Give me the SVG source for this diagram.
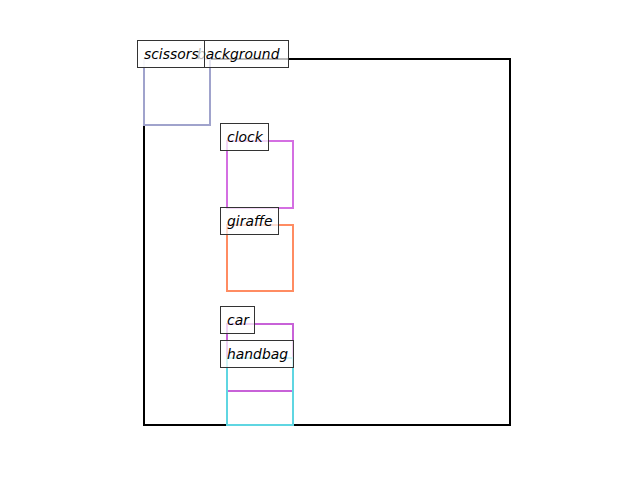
<svg xmlns="http://www.w3.org/2000/svg" width="640" height="480" viewBox="0 0 640 480">
<style>
.bx{fill:none;stroke-width:2}
.lb{fill:#fff;fill-opacity:0.72;stroke:#333;stroke-width:1}
.t{font-family:"DejaVu Sans",sans-serif;font-style:italic;font-size:13.9px;fill:#000}
</style>
<rect width="640" height="480" fill="#fff"/>
<g id="boxes">
<rect id="background" class="bx" x="144" y="59" width="366" height="366" stroke="#000"/>
<rect id="scissors" class="bx" x="144" y="59" width="66" height="66" stroke="#a0a3cc"/>
<rect id="clock" class="bx" x="227" y="141" width="66" height="67" stroke="#d46fe2"/>
<rect id="giraffe" class="bx" x="227" y="225" width="66" height="66" stroke="#ff8c62"/>
<rect id="car" class="bx" x="227" y="324" width="66" height="67" stroke="#c862d8"/>
<rect id="handbag" class="bx" x="227" y="358" width="66" height="67" stroke="#5fd6e2"/>
</g>
<g id="labels">
<g id="label-background"><rect class="lb" x="137.5" y="40.5" width="151" height="27"/><text class="t" x="197" y="59">background</text></g>
<g id="label-scissors"><rect class="lb" x="137.5" y="40.5" width="67" height="27"/><text class="t" x="144" y="59">scissors</text></g>
<g id="label-clock"><rect class="lb" x="220.5" y="123.5" width="48" height="27"/><text class="t" x="227" y="142">clock</text></g>
<g id="label-giraffe"><rect class="lb" x="220.5" y="207.5" width="58" height="27"/><text class="t" x="227" y="226">giraffe</text></g>
<g id="label-car"><rect class="lb" x="220.5" y="306.5" width="34" height="27"/><text class="t" x="227" y="325">car</text></g>
<g id="label-handbag"><rect class="lb" x="220.5" y="340.5" width="73" height="27"/><text class="t" x="227" y="359">handbag</text></g>
</g>
</svg>
